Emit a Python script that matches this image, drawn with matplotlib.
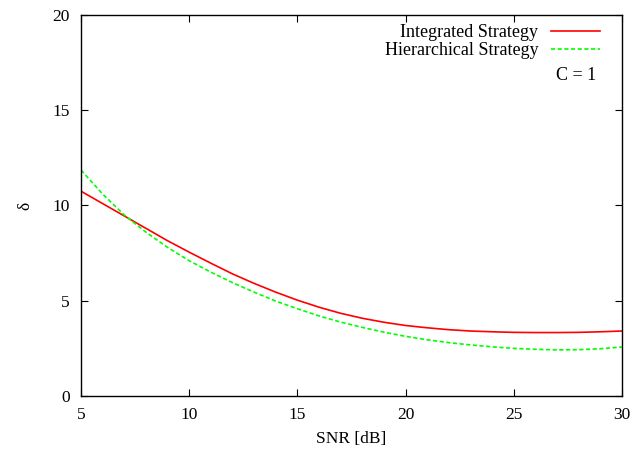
import matplotlib
matplotlib.use("Agg")
import matplotlib.pyplot as plt

plt.rcParams['font.family'] = ['Liberation Serif', 'DejaVu Serif']

snr = [5, 6, 7, 8, 9, 10, 11, 12, 13, 14, 15, 16, 17, 18, 19, 20, 21, 22, 23, 24, 25, 26, 27, 28, 29, 30]
integrated = [10.75, 10.1, 9.45, 8.8, 8.15, 7.55, 6.97, 6.41, 5.91, 5.45, 5.03, 4.66, 4.34, 4.08, 3.87, 3.70, 3.58, 3.48, 3.41, 3.37, 3.34, 3.33, 3.33, 3.34, 3.37, 3.41]
hierarchical = [11.86, 10.6, 9.5, 8.6, 7.8, 7.1, 6.5, 5.95, 5.45, 4.98, 4.58, 4.2, 3.88, 3.6, 3.35, 3.13, 2.95, 2.8, 2.68, 2.58, 2.5, 2.45, 2.42, 2.43, 2.48, 2.57]
xticks = [5, 10, 15, 20, 25, 30]
yticks = [0, 5, 10, 15, 20]

fig = plt.figure(figsize=(6.35, 4.59), dpi=100)
ax = fig.add_axes([0.1276, 0.1373, 0.8519, 0.83])

ax.plot(snr, integrated, color='#ff0000', lw=1.2, label='Integrated Strategy')
ax.plot(snr, hierarchical, color='#00ff00', lw=1.2, ls=(0, (2.5, 1.5)), label='Hierarchical Strategy')

ax.set_xlim(5, 30)
ax.set_ylim(0, 20)
ax.set_xticks(xticks)
ax.set_yticks(yticks)
ax.tick_params(direction='in', top=True, right=True, labelsize=12.5, length=5, width=0.8, pad=8)
for s in ax.spines.values():
    s.set_linewidth(1.0)

ax.set_xlabel('SNR [dB]', fontsize=12.5, labelpad=6)
ax.set_ylabel('δ', fontsize=12.5, labelpad=14)

leg = ax.legend(loc='upper right', frameon=False, markerfirst=False, fontsize=13,
                handlelength=2.7, handletextpad=0.7, labelspacing=0.05,
                borderaxespad=0.2, bbox_to_anchor=(0.979, 1.005))
ax.text(0.953, 0.84, 'C = 1', transform=ax.transAxes, ha='right', va='center', fontsize=13)

fig.savefig('out.png', dpi=100)
